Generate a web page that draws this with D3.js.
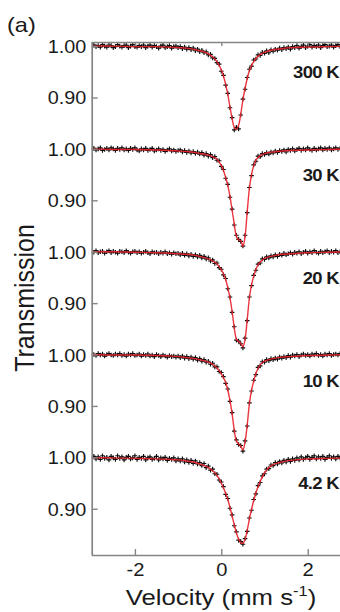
<!DOCTYPE html>
<html><head><meta charset="utf-8">
<script src="https://cdn.jsdelivr.net/npm/d3@7"></script>
<style>
html,body{margin:0;padding:0;background:#fff;}
svg{display:block;font-family:"Liberation Sans",Arial,sans-serif;}
</style></head>
<body><svg id="c" width="340" height="612"></svg>
<script>
// ---- data ----
const temperatures = ["300 K", "30 K", "20 K", "10 K", "4.2 K"];
const panelOffsets = [0, 0.2, 0.4, 0.6, 0.8];
const yTickBase = [1.00, 0.90];
const yTickLabels = ["1.00", "0.90"];
const xTickValues = [-2, 0, 2];

const velocity = [
-2.95,-2.9,-2.85,-2.8,-2.75,-2.7,-2.65,-2.6,-2.55,-2.5,
-2.45,-2.4,-2.35,-2.3,-2.25,-2.2,-2.15,-2.1,-2.05,-2,
-1.95,-1.9,-1.85,-1.8,-1.75,-1.7,-1.65,-1.6,-1.55,-1.5,
-1.45,-1.4,-1.35,-1.3,-1.25,-1.2,-1.15,-1.1,-1.05,-1,
-0.95,-0.9,-0.85,-0.8,-0.75,-0.7,-0.65,-0.6,-0.55,-0.5,
-0.45,-0.4,-0.35,-0.3,-0.25,-0.2,-0.15,-0.1,-0.05,0,
0.05,0.1,0.15,0.2,0.25,0.3,0.35,0.4,0.45,0.5,
0.55,0.6,0.65,0.7,0.75,0.8,0.85,0.9,0.95,1,
1.05,1.1,1.15,1.2,1.25,1.3,1.35,1.4,1.45,1.5,
1.55,1.6,1.65,1.7,1.75,1.8,1.85,1.9,1.95,2,
2.05,2.1,2.15,2.2,2.25,2.3,2.35,2.4,2.45,2.5,
2.55,2.6,2.65,2.7,2.75,2.8];

const data300K = [
1.002,0.999,1.001,0.998,1.003,1.000,0.998,1.002,1.001,0.997,
0.999,1.003,1.000,0.998,1.001,1.002,0.997,1.000,1.003,0.999,
0.998,1.001,0.999,1.002,0.997,1.000,1.002,0.998,1.001,0.999,
0.996,1.000,1.002,0.997,0.999,1.001,0.996,0.999,1.000,0.997,
0.999,0.995,0.998,0.994,0.997,0.993,0.996,0.991,0.994,0.989,
0.992,0.987,0.989,0.983,0.984,0.977,0.976,0.968,0.965,0.951,
0.943,0.924,0.908,0.880,0.861,0.837,0.842,0.839,0.866,0.897,
0.916,0.939,0.955,0.961,0.973,0.975,0.983,0.982,0.988,0.986,
0.991,0.987,0.993,0.990,0.994,0.992,0.996,0.993,0.997,0.995,
0.998,0.994,0.999,0.997,1.001,0.996,0.999,1.002,0.997,1.000,
1.003,0.998,1.001,0.999,1.002,0.997,1.001,1.003,0.999,1.000,
1.002,0.998,1.001,1.003,0.999,1.001];

const data30K = [
1.001,0.998,1.000,1.002,0.997,0.999,1.001,0.998,1.002,1.000,
0.997,1.001,0.999,1.002,0.998,1.000,0.997,1.001,0.999,1.002,
0.998,0.996,1.000,0.998,1.001,0.997,0.999,1.001,0.996,0.998,
1.000,0.997,0.999,0.995,0.998,1.000,0.996,0.998,0.995,0.997,
0.998,0.994,0.997,0.993,0.996,0.992,0.995,0.991,0.994,0.990,
0.993,0.988,0.991,0.986,0.989,0.983,0.985,0.978,0.977,0.966,
0.960,0.943,0.931,0.906,0.883,0.852,0.832,0.824,0.820,0.811,
0.832,0.876,0.925,0.948,0.969,0.976,0.986,0.985,0.991,0.989,
0.993,0.990,0.994,0.992,0.996,0.993,0.997,0.995,0.998,0.994,
0.999,0.997,1.000,0.996,0.999,1.001,0.997,1.000,0.998,1.002,
0.999,0.997,1.001,0.998,1.000,1.002,0.998,1.001,0.999,1.002,
0.998,1.000,1.002,0.999,1.001,0.998];

const data20K = [
0.999,1.002,0.998,1.000,1.001,0.997,1.000,1.002,0.998,1.001,
0.999,0.997,1.001,1.000,0.998,1.002,0.999,0.997,1.000,1.001,
0.998,1.000,0.997,0.999,1.001,0.998,0.996,1.000,0.998,0.999,
0.996,0.999,0.997,1.000,0.996,0.998,0.995,0.998,0.996,0.997,
0.994,0.997,0.993,0.996,0.992,0.995,0.991,0.994,0.990,0.993,
0.988,0.991,0.986,0.988,0.982,0.984,0.977,0.978,0.969,0.966,
0.955,0.948,0.928,0.912,0.882,0.854,0.828,0.826,0.821,0.813,
0.832,0.866,0.912,0.934,0.954,0.964,0.976,0.978,0.986,0.985,
0.990,0.988,0.992,0.990,0.994,0.991,0.995,0.993,0.997,0.994,
0.996,0.998,0.995,0.999,0.997,1.000,0.996,0.999,1.001,0.997,
1.000,0.998,1.002,0.999,0.997,1.001,0.998,1.000,1.002,0.998,
1.001,0.999,1.002,0.998,1.000,1.001];

const data10K = [
1.000,0.998,1.002,0.999,1.001,0.997,1.000,1.002,0.999,0.998,
1.001,0.999,1.002,0.998,1.000,0.997,1.001,0.999,1.002,0.998,
0.999,1.001,0.997,1.000,0.998,1.001,0.997,0.999,0.996,1.000,
0.998,0.996,0.999,0.997,0.995,0.998,0.996,0.997,0.995,0.997,
0.994,0.997,0.993,0.996,0.992,0.995,0.991,0.994,0.989,0.992,
0.987,0.990,0.985,0.987,0.981,0.983,0.976,0.976,0.967,0.965,
0.957,0.944,0.933,0.909,0.887,0.851,0.834,0.825,0.823,0.812,
0.832,0.861,0.906,0.929,0.950,0.961,0.975,0.978,0.986,0.985,
0.990,0.988,0.992,0.990,0.993,0.991,0.995,0.993,0.996,0.994,
0.998,0.995,0.999,0.997,1.000,0.996,0.999,1.001,0.998,1.000,
0.997,1.001,0.999,1.002,0.998,1.000,0.997,1.001,0.999,1.002,
0.998,1.000,1.001,0.999,1.002,0.999];

const data4K = [
1.002,0.997,1.001,0.996,1.003,0.998,1.000,0.995,1.002,0.999,
0.996,1.003,0.998,1.001,0.995,1.000,1.002,0.997,0.999,1.003,
0.996,1.000,0.998,1.002,0.995,0.999,1.001,0.996,0.998,1.002,
0.995,0.999,0.997,1.000,0.994,0.998,0.996,0.999,0.993,0.997,
0.993,0.997,0.991,0.995,0.990,0.994,0.988,0.993,0.987,0.990,
0.984,0.988,0.980,0.983,0.975,0.977,0.968,0.967,0.956,0.952,
0.943,0.928,0.920,0.901,0.888,0.867,0.855,0.839,0.836,0.831,
0.842,0.856,0.882,0.897,0.918,0.929,0.945,0.951,0.964,0.968,
0.977,0.978,0.985,0.984,0.990,0.987,0.992,0.989,0.994,0.991,
0.996,0.992,0.997,0.994,0.999,0.995,1.001,0.996,0.999,1.002,
0.996,1.000,1.003,0.997,1.001,0.998,1.002,0.996,1.000,1.003,
0.998,1.001,0.997,1.002,0.999,1.001];

const fitVelocity = [-3,-2.5,-2,-1.5,-1.2,-1,-0.8,-0.6,-0.5,-0.4,-0.3,-0.2,-0.1,0,
0.05,0.1,0.15,0.2,0.25,0.3,0.35,0.4,0.45,0.5,0.55,0.6,0.65,0.7,0.75,0.8,
0.9,1.0,1.1,1.2,1.4,1.6,2,2.5,3];

const fit300K = [1.000,1.000,0.999,0.999,0.998,0.997,0.996,0.993,0.991,0.989,0.985,0.979,0.970,0.954,
0.942,0.926,0.906,0.882,0.859,0.842,0.838,0.846,0.868,0.895,0.918,0.937,0.952,0.962,0.970,0.976,
0.984,0.988,0.991,0.993,0.995,0.997,0.998,0.999,1.000];
const fit30K = [1.000,0.999,0.999,0.998,0.997,0.996,0.995,0.993,0.991,0.990,0.988,0.985,0.980,0.968,
0.958,0.945,0.929,0.908,0.881,0.854,0.830,0.823,0.822,0.810,0.830,0.878,0.923,0.950,0.967,0.978,
0.987,0.991,0.993,0.994,0.996,0.997,0.998,0.999,1.000];
const fit20K = [1.000,1.000,0.999,0.998,0.997,0.996,0.995,0.993,0.991,0.989,0.986,0.982,0.976,0.965,
0.957,0.946,0.930,0.910,0.884,0.852,0.830,0.825,0.822,0.815,0.830,0.868,0.910,0.936,0.952,0.966,
0.980,0.987,0.990,0.992,0.995,0.996,0.998,0.999,1.000];
const fit10K = [1.000,0.999,0.999,0.998,0.997,0.996,0.994,0.992,0.990,0.988,0.985,0.981,0.974,0.963,
0.955,0.946,0.931,0.911,0.885,0.853,0.832,0.826,0.822,0.814,0.830,0.863,0.904,0.931,0.948,0.963,
0.980,0.987,0.990,0.992,0.995,0.996,0.998,0.999,1.000];
const fit4K = [0.999,0.999,0.998,0.997,0.996,0.995,0.993,0.990,0.987,0.984,0.980,0.974,0.965,0.950,
0.941,0.930,0.918,0.903,0.886,0.869,0.853,0.841,0.834,0.833,0.840,0.858,0.880,0.899,0.916,0.931,
0.953,0.970,0.980,0.986,0.991,0.994,0.997,0.998,0.999];

const spectraData = [data300K, data30K, data20K, data10K, data4K];
const spectraFit = [fit300K, fit30K, fit20K, fit10K, fit4K];

// ---- layout ----
const svg = d3.select("#c");
const plotLeft = 91.7, plotRight = 340, plotTop = 42, plotBottom = 555;
const x = d3.scaleLinear().domain([-3, 3]).range([plotLeft, 350.9]);
const y = d3.scaleLinear().domain([0.01, 1.008]).range([plotBottom, plotTop]);
const axisColor = "#858585";
const textColor = "#1a1a1a";

svg.append("defs").append("clipPath").attr("id", "plotclip")
  .append("rect").attr("x", plotLeft).attr("y", plotTop - 6)
  .attr("width", plotRight - plotLeft + 2).attr("height", plotBottom - plotTop + 6);

const plot = svg.append("g").attr("clip-path", "url(#plotclip)");

spectraData.forEach((vals, k) => {
  const off = panelOffsets[k];
  const pts = d3.zip(velocity, vals);
  plot.append("g").selectAll("path").data(pts).join("path")
    .attr("transform", d => `translate(${x(d[0])},${y(d[1] - off)})`)
    .attr("d", "M-2.3,0H2.3M0,-2.3V2.3")
    .attr("stroke", "#0d0d0d").attr("stroke-width", 1.15).attr("fill", "none");
});

const line = d3.line().x(d => x(d[0])).y(d => y(d[1])).curve(d3.curveCatmullRom.alpha(0.5));
spectraFit.forEach((vals, k) => {
  const off = panelOffsets[k];
  plot.append("path")
    .datum(d3.zip(fitVelocity, vals.map(v => v - off)))
    .attr("d", line).attr("fill", "none")
    .attr("stroke", "#ea1f2a").attr("stroke-width", 1.4).attr("opacity", 0.9);
});

// axes
const yTicks = [];
panelOffsets.forEach(off => yTickBase.forEach((b, j) => yTicks.push({v: b - off, label: yTickLabels[j]})));
const yAxis = d3.axisLeft(y).tickValues(yTicks.map(t => t.v))
  .tickFormat((d, i) => yTicks[i].label).tickSizeInner(-6).tickSizeOuter(0).tickPadding(6);
const gy = svg.append("g").attr("transform", `translate(${plotLeft},0)`).call(yAxis);

const xAxis = d3.axisBottom(x).tickValues(xTickValues)
  .tickFormat(d => d < 0 ? "-" + Math.abs(d) : String(d)).tickSizeInner(-6).tickSizeOuter(0).tickPadding(8);
const gx = svg.append("g").attr("transform", `translate(0,${plotBottom})`).call(xAxis);

const xTop = d3.axisTop(x).tickValues(xTickValues).tickFormat("").tickSizeInner(-4).tickSizeOuter(0);
const gxt = svg.append("g").attr("transform", `translate(0,${plotTop})`).call(xTop);

[gy, gx, gxt].forEach(g => {
  g.selectAll(".domain").attr("stroke", axisColor).attr("stroke-width", 1.7);
  g.selectAll(".tick line").attr("stroke", axisColor).attr("stroke-width", 1.4);
  g.selectAll("text").attr("fill", textColor).attr("font-size", 18)
    .attr("font-family", "'Liberation Sans', Arial, sans-serif");
});
gx.select(".domain").attr("d", `M${plotLeft},0.5H${plotRight + 10}`);
gxt.select(".domain").attr("d", `M${plotLeft},0.5H${plotRight + 10}`);
gy.select(".domain").attr("d", `M0.5,${plotTop}V${plotBottom}`);
gy.selectAll(".tick text").attr("transform", "scale(1.1,1)").attr("x", -5.5 / 1.1).attr("dy", "0.36em");
gx.selectAll(".tick text").attr("transform", "scale(1.12,1)").attr("x", 0);

// temperature labels
temperatures.forEach((t, k) => {
  svg.append("text")
    .attr("transform", `translate(339,${y(1 - panelOffsets[k]) + 32}) scale(1.12,1)`)
    .attr("text-anchor", "end").attr("font-weight", "bold").attr("font-size", 16.5)
    .attr("fill", textColor).attr("letter-spacing", -0.6).text(t);
});

// panel letter
svg.append("text").attr("transform", "translate(7,32) scale(1.12,1)")
  .attr("font-size", 21).attr("fill", textColor).text("(a)");

// axis titles
svg.append("text").attr("transform", "translate(34,298) rotate(-90) scale(1,1.12)")
  .attr("text-anchor", "middle").attr("font-size", 25).attr("fill", textColor).text("Transmission");

const xt = svg.append("text").attr("transform", "translate(221,605) scale(1.17,1)")
  .attr("text-anchor", "middle").attr("font-size", 22).attr("fill", textColor);
xt.append("tspan").text("Velocity (mm s");
xt.append("tspan").attr("font-size", 14).attr("dy", -9).text("-1");
xt.append("tspan").attr("dy", 9).text(")");
</script>
</body></html>
